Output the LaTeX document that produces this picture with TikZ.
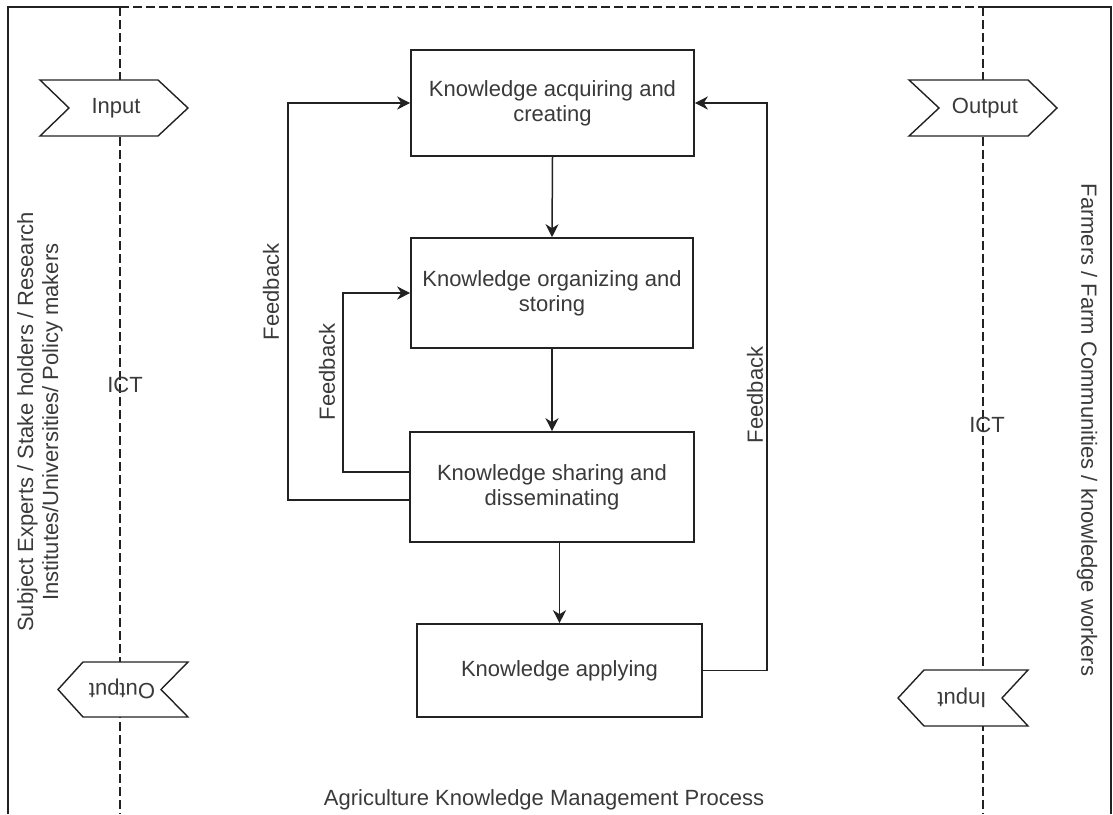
\documentclass[tikz,border=0pt]{standalone}
\usepackage{fontspec}
\setmainfont{Liberation Sans}
\usetikzlibrary{arrows.meta}
\definecolor{txt}{HTML}{3A3A3A}
\definecolor{edge}{HTML}{222222}
\begin{document}
\begin{tikzpicture}[x=1pt,y=-1pt,
  every node/.style={font=\fontsize{22}{25}\selectfont, text=txt},
  procbox/.style={draw=edge, line width=1.6pt, fill=white, align=center, inner sep=0pt},
  lane/.style={draw=edge, line width=1.4pt},
  lanedash/.style={draw=edge, line width=1.3pt, dash pattern=on 9pt off 4pt},
  stepshape/.style={draw=edge, line width=1.4pt, fill=white, line join=miter},
  flow/.style={draw=edge, line width=1.5pt, -{Stealth[length=13pt,width=13pt,inset=4pt]}},
  lbl/.style={inner sep=0pt}
]
\useasboundingbox (0,0) rectangle (1113,814);

% swimlane borders
\draw[lane] (8,814) -- (8,7) -- (120,7);
\draw[lanedash] (120,7) -- (983,7);
\draw[lane] (983,7) -- (1111,7) -- (1111,814);
\draw[lanedash] (120,7) -- (120,814);
\draw[lanedash] (983,7) -- (983,814);

% step shapes on the lane boundaries
\path[stepshape] (40,80) -- (158,80) -- (188,108) -- (158,136) -- (40,136) -- (69,108) -- cycle;
\node[lbl] (inL) at (116,108) {Input};
\path[stepshape] (188,662) -- (83,662) -- (58,689.5) -- (83,717) -- (188,717) -- (161,689.5) -- cycle;
\node[lbl, rotate=180] (outL) at (122,689) {Output};
\path[stepshape] (909,80) -- (1028,80) -- (1057,108) -- (1028,136) -- (909,136) -- (939,108) -- cycle;
\node[lbl] (outR) at (985,108) {Output};
\path[stepshape] (1028,670) -- (924,670) -- (898,698) -- (924,726) -- (1028,726) -- (1002,698) -- cycle;
\node[lbl, rotate=180] (inR) at (962,698) {Input};

% lane titles
\node[lbl, rotate=90, align=center] (actorsL) at (40,422)
  {Subject Experts / Stake holders / Research\\Institutes/Universities/ Policy makers};
\node[lbl, rotate=-90] (actorsR) at (1087,430) {Farmers / Farm Communities / knowledge workers};
\node[lbl] (ictL) at (125,385) {ICT};
\node[lbl] (ictR) at (987,425) {ICT};

% process steps
\node[procbox, minimum width=283pt, minimum height=106pt] (b1) at (552.5,103)
  {Knowledge acquiring and\\creating};
\node[procbox, minimum width=282pt, minimum height=110pt] (b2) at (552,293)
  {Knowledge organizing and\\storing};
\node[procbox, minimum width=284pt, minimum height=110pt] (b3) at (552,487)
  {Knowledge sharing and\\disseminating};
\node[procbox, minimum width=285pt, minimum height=93pt] (b4) at (559.5,670.5)
  {Knowledge applying};

% main flow
\draw[flow] (b1.south) -- (b2.north);
\draw[flow] (b2.south) -- (b3.north);
\draw[flow] (b4.north |- b3.south) -- (b4.north);

% feedback loops
\coordinate (fbOuter) at (288,500);
\coordinate (fbInner) at (343,472);
\coordinate (fbRight) at (767,670.5);
\draw[flow] (b3.west |- fbOuter) -- (fbOuter) |- (b1.west);
\draw[flow] (b3.west |- fbInner) -- (fbInner) |- (b2.west);
\draw[flow] (b4.east) -- (fbRight) |- (b1.east);
\node[lbl, rotate=90] (fbl1) at (271,292) {Feedback};
\node[lbl, rotate=90] (fbl2) at (327,372) {Feedback};
\node[lbl, rotate=90] (fbl3) at (755,395) {Feedback};

% caption
\node[lbl] (caption) at (544,800) {Agriculture Knowledge Management Process};
\end{tikzpicture}
\end{document}
